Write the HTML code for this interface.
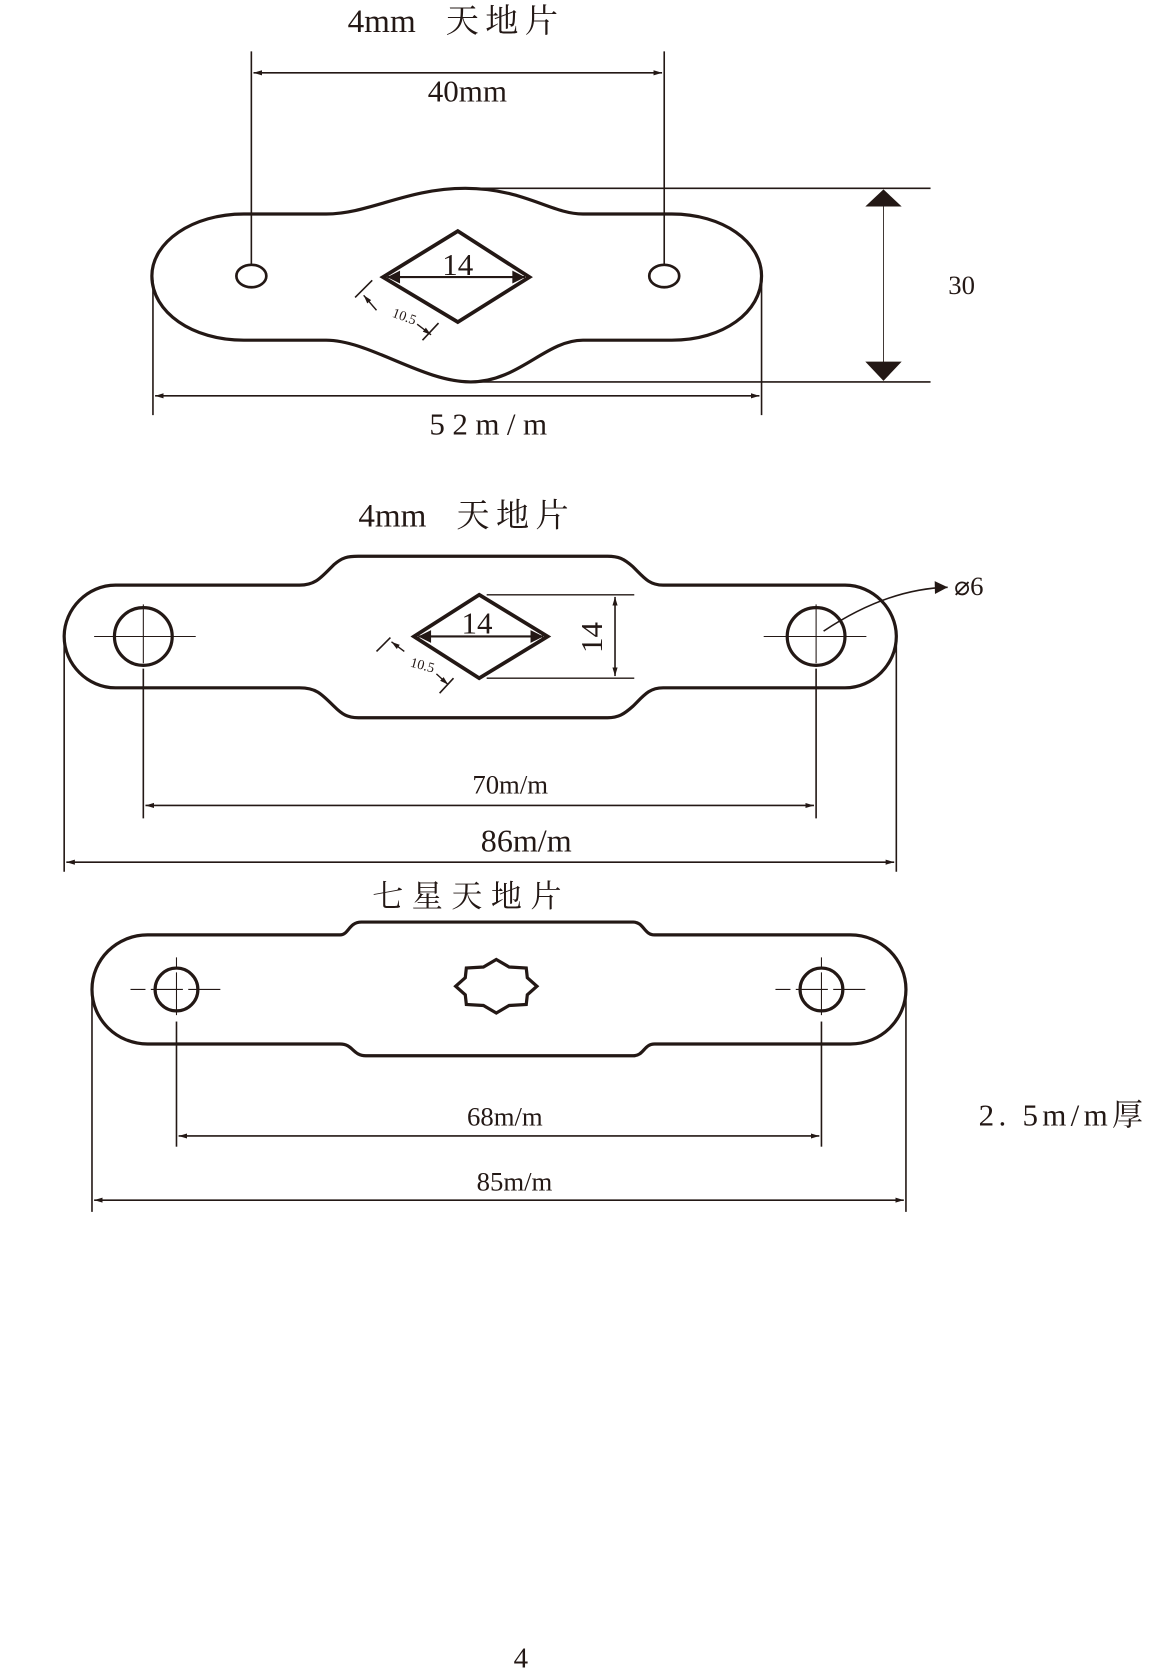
<!DOCTYPE html>
<html><head><meta charset="utf-8">
<style>
html,body{margin:0;padding:0;background:#fff;}
svg{display:block;}
text{font-family:"Liberation Serif","Noto Serif CJK SC",serif;fill:#231815;}
.cjk{font-family:"Liberation Serif","Noto Serif CJK SC","Noto Sans CJK SC",serif;}
</style></head>
<body>
<svg width="1168" height="1673" viewBox="0 0 1092 1564" xmlns="http://www.w3.org/2000/svg">
<defs>
<marker id="a" viewBox="0 0 10 10" refX="10" refY="5" markerWidth="8" markerHeight="8" orient="auto-start-reverse" markerUnits="userSpaceOnUse"><path d="M0,2 L10,5 L0,8 z" fill="#231815"/></marker>
<marker id="b" viewBox="0 0 10 10" refX="10" refY="5" markerWidth="22" markerHeight="12" orient="auto-start-reverse" markerUnits="userSpaceOnUse"><path d="M0,0 L10,5 L0,10 z" fill="#231815"/></marker>
</defs>
<g stroke="#231815" fill="none">
<!-- PART 1 -->
<path d="M228,200 L305,200 C345,200 380,176 435,176 C490,176 515,200 545,200 L628,200 C676,200 712,226 712,258 C712,292 676,318 628,318 L545,318 C510,318 485,357 440,357 C395,357 345,318 305,318 L228,318 C180,318 142,292 142,258 C142,226 180,200 228,200 Z" stroke-width="3"/>
<ellipse cx="235" cy="258" rx="14" ry="10.5" stroke-width="2.5"/>
<ellipse cx="621" cy="258" rx="14" ry="10.5" stroke-width="2.5"/>
<path d="M428,216 L495,259 L428,301 L358,259 Z" stroke-width="3.5"/>
<line x1="362" y1="259" x2="491" y2="259" stroke-width="2" marker-start="url(#b)" marker-end="url(#b)"/>
<line x1="235" y1="48" x2="235" y2="247" stroke-width="1.5"/>
<line x1="621" y1="48" x2="621" y2="247" stroke-width="1.5"/>
<line x1="237" y1="68" x2="619" y2="68" stroke-width="1.5" marker-start="url(#a)" marker-end="url(#a)"/>
<line x1="332" y1="278" x2="348" y2="262" stroke-width="1.5"/>
<line x1="395" y1="318" x2="410" y2="302" stroke-width="1.5"/>
<line x1="352" y1="290" x2="340" y2="276" stroke-width="1.3" marker-end="url(#a)"/>
<line x1="390" y1="303" x2="403" y2="313" stroke-width="1.3" marker-end="url(#a)"/>
<line x1="435" y1="176" x2="870" y2="176" stroke-width="1.5"/>
<line x1="440" y1="357" x2="870" y2="357" stroke-width="1.5"/>
<line x1="826" y1="190" x2="826" y2="343" stroke-width="0.8"/>
<line x1="143" y1="262" x2="143" y2="388" stroke-width="1.5"/>
<line x1="712" y1="262" x2="712" y2="388" stroke-width="1.5"/>
<line x1="145" y1="370" x2="710" y2="370" stroke-width="1.5" marker-start="url(#a)" marker-end="url(#a)"/>
</g>
<path d="M826,177 L843,193 L809,193 Z M826,356 L843,338 L809,338 Z" fill="#231815"/>
<text x="325" y="30" font-size="31" class="cjk">4mm<tspan dx="28" letter-spacing="6">天地片</tspan></text>
<text x="437" y="95" font-size="29" text-anchor="middle">40mm</text>
<text x="428" y="257" font-size="29" text-anchor="middle">14</text>
<text x="378" y="300" font-size="13" text-anchor="middle" transform="rotate(20 378 296)">10.5</text>
<text x="899" y="275" font-size="25" text-anchor="middle">30</text>
<text x="460" y="406" font-size="29" text-anchor="middle" letter-spacing="7">52m/m</text>

<!-- PART 2 -->
<g stroke="#231815" fill="none">
<path d="M108,547 L280,547 C295,547 300,540 312,528 C320,521 325,520 335,520 L568,520 C578,520 583,522 592,530 C602,540 607,547 620,547 L790,547 C816,547 838,569 838,595 C838,621 816,643 790,643 L620,643 C607,643 602,650 592,660 C583,668 578,671 568,671 L335,671 C325,671 320,668 312,660 C300,648 295,643 280,643 L108,643 C82,643 60,621 60,595 C60,569 82,547 108,547 Z" stroke-width="3"/>
<circle cx="134" cy="595" r="27" stroke-width="3"/>
<circle cx="763" cy="595" r="27" stroke-width="3"/>
<line x1="88" y1="595" x2="183" y2="595" stroke-width="1"/>
<line x1="134" y1="565" x2="134" y2="620" stroke-width="1"/>
<line x1="714" y1="595" x2="810" y2="595" stroke-width="1"/>
<line x1="763" y1="565" x2="763" y2="620" stroke-width="1"/>
<path d="M448,556 L512,595 L448,634 L387,595 Z" stroke-width="3.5"/>
<line x1="391" y1="595" x2="508" y2="595" stroke-width="2" marker-start="url(#b)" marker-end="url(#b)"/>
<line x1="455" y1="556" x2="593" y2="556" stroke-width="1.3"/>
<line x1="455" y1="634" x2="593" y2="634" stroke-width="1.3"/>
<line x1="575" y1="558" x2="575" y2="632" stroke-width="1.5" marker-start="url(#a)" marker-end="url(#a)"/>
<line x1="352" y1="609" x2="365" y2="596" stroke-width="1.5"/>
<line x1="411" y1="648" x2="424" y2="634" stroke-width="1.5"/>
<line x1="378" y1="609" x2="366" y2="600" stroke-width="1.3" marker-end="url(#a)"/>
<line x1="408" y1="630" x2="419" y2="640" stroke-width="1.3" marker-end="url(#a)"/>
<path d="M770,590 C800,570 840,550 886,549" stroke-width="1.5" marker-end="url(#b)"/>
<line x1="134" y1="625" x2="134" y2="765" stroke-width="1.5"/>
<line x1="763" y1="625" x2="763" y2="765" stroke-width="1.5"/>
<line x1="136" y1="753" x2="761" y2="753" stroke-width="1.5" marker-start="url(#a)" marker-end="url(#a)"/>
<line x1="60" y1="600" x2="60" y2="815" stroke-width="1.5"/>
<line x1="838" y1="600" x2="838" y2="815" stroke-width="1.5"/>
<line x1="62" y1="806" x2="836" y2="806" stroke-width="1.5" marker-start="url(#a)" marker-end="url(#a)"/>
</g>
<text x="335" y="492" font-size="31" class="cjk">4mm<tspan dx="28" letter-spacing="6">天地片</tspan></text>
<text x="446" y="592" font-size="29" text-anchor="middle">14</text>
<text x="0" y="0" font-size="29" text-anchor="middle" transform="translate(563 596) rotate(-90)">14</text>
<text x="395" y="626" font-size="13" text-anchor="middle" transform="rotate(15 395 622)">10.5</text>
<text x="892" y="556" font-size="25">⌀6</text>
<text x="477" y="742" font-size="25" text-anchor="middle">70m/m</text>
<text x="492" y="796" font-size="30" text-anchor="middle">86m/m</text>

<!-- PART 3 -->
<g stroke="#231815" fill="none">
<path d="M138,874 L318,874 C326,874 326,862 338,862 L592,862 C602,862 602,874 612,874 L795,874 C824,874 847,897 847,925 C847,953 824,976 795,976 L612,976 C602,976 602,987 592,987 L342,987 C330,987 330,976 318,976 L138,976 C109,976 86,953 86,925 C86,897 109,874 138,874 Z" stroke-width="3"/>
<circle cx="165" cy="925" r="20" stroke-width="3"/>
<circle cx="768" cy="925" r="20" stroke-width="3"/>
<line x1="122" y1="925" x2="210" y2="925" stroke-width="1" stroke-dasharray="14,5,30,5,30"/>
<line x1="165" y1="895" x2="165" y2="950" stroke-width="1" stroke-dasharray="10,4,40"/>
<line x1="725" y1="925" x2="812" y2="925" stroke-width="1" stroke-dasharray="14,5,30,5,30"/>
<line x1="768" y1="895" x2="768" y2="950" stroke-width="1" stroke-dasharray="10,4,40"/>
<path transform="translate(464 922)" d="M0,-25 L12,-18 L28,-17 L29,-8 L38,0 L29,8 L28,17 L12,18 L0,25 L-12,18 L-28,17 L-29,8 L-38,0 L-29,-8 L-28,-17 L-12,-18 Z" stroke-width="3"/>
<line x1="165" y1="955" x2="165" y2="1072" stroke-width="1.5"/>
<line x1="768" y1="955" x2="768" y2="1072" stroke-width="1.5"/>
<line x1="167" y1="1062" x2="766" y2="1062" stroke-width="1.5" marker-start="url(#a)" marker-end="url(#a)"/>
<line x1="86" y1="930" x2="86" y2="1133" stroke-width="1.5"/>
<line x1="847" y1="930" x2="847" y2="1133" stroke-width="1.5"/>
<line x1="88" y1="1122" x2="845" y2="1122" stroke-width="1.5" marker-start="url(#a)" marker-end="url(#a)"/>
</g>
<text x="348" y="848" font-size="29" class="cjk" letter-spacing="8">七星天地片</text>
<text x="472" y="1052" font-size="25" text-anchor="middle">68m/m</text>
<text x="481" y="1113" font-size="25" text-anchor="middle">85m/m</text>
<text x="915" y="1052" font-size="29" class="cjk" letter-spacing="4">2. 5m/m厚</text>
<text x="487" y="1559" font-size="27" text-anchor="middle">4</text>
</svg>
</body></html>
